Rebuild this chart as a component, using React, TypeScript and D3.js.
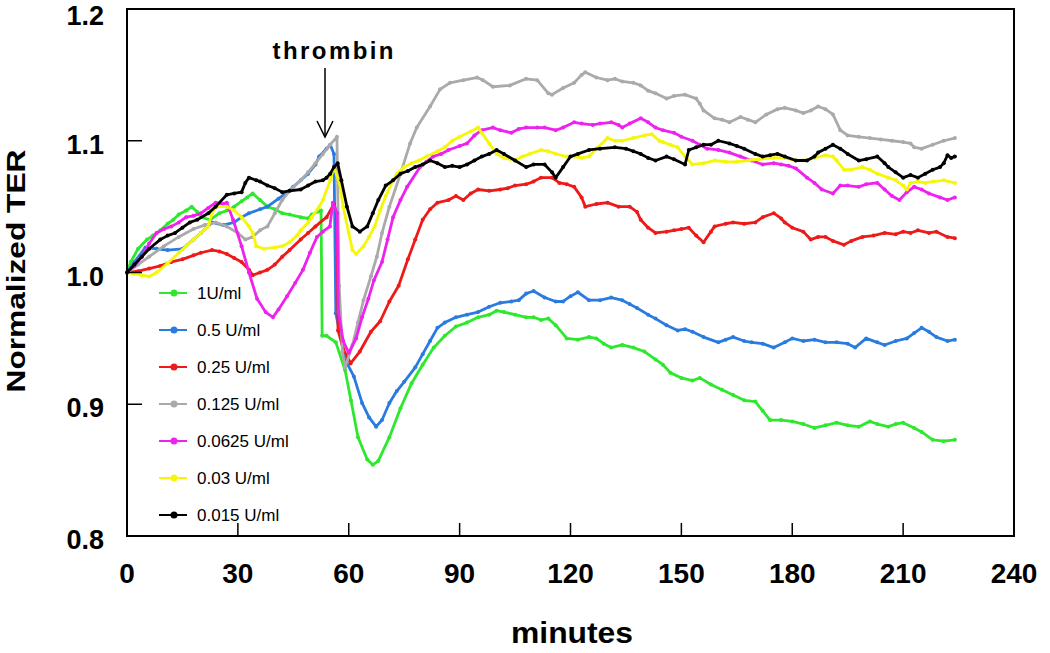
import React from 'react';
import * as d3 from 'd3';

type Pt = [number, number];

const seriesNames = ['1U/ml', '0.5 U/ml', '0.25 U/ml', '0.125 U/ml', '0.0625 U/ml', '0.03 U/ml', '0.015 U/ml'];
const seriesColors = ['#2ee82e', '#2a7be0', '#ee1a1a', '#aaaaaa', '#ee22ee', '#f6f60a', '#000000'];
const xTicks = [0, 30, 60, 90, 120, 150, 180, 210, 240];
const yTicks = [0.8, 0.9, 1.0, 1.1, 1.2];

const data1U: Pt[] = [[0,1.0],[1,1.008],[3,1.018],[5.4,1.025],[7,1.028],[9,1.032],[11,1.037],[12.5,1.04],[14,1.044],[16,1.047],[17.5,1.05],[19,1.046],[20,1.042],[22.5,1.04],[25,1.045],[27,1.047],[29,1.05],[31,1.054],[32.5,1.057],[34,1.06],[36,1.055],[38,1.05],[40,1.048],[42,1.045],[44,1.044],[47,1.042],[49,1.041],[50,1.044],[52.5,1.047],[52.8,0.952],[54,0.952],[56.5,0.947],[59,0.926],[60.6,0.903],[62.5,0.875],[65,0.858],[66.5,0.854],[68,0.857],[71,0.875],[74,0.897],[77,0.916],[80,0.93],[83,0.943],[86,0.952],[89,0.959],[92,0.962],[95,0.966],[98,0.968],[100,0.971],[102,0.97],[105,0.968],[108,0.966],[110,0.966],[112,0.964],[114,0.965],[116,0.96],[119,0.95],[122,0.949],[125,0.951],[127,0.95],[129,0.946],[131,0.943],[134,0.945],[137,0.943],[140,0.94],[143,0.934],[145,0.93],[147,0.924],[150,0.92],[153,0.918],[155,0.92],[158,0.915],[161,0.911],[164,0.907],[167,0.903],[170,0.902],[172,0.895],[174,0.888],[177,0.888],[180,0.887],[183,0.885],[186,0.882],[189,0.884],[192,0.886],[195,0.884],[198,0.883],[201,0.887],[203,0.885],[206,0.883],[208,0.885],[210,0.886],[213,0.882],[215,0.879],[218,0.873],[221,0.872],[224,0.873]];

const data05U: Pt[] = [[0,1.0],[2,1.008],[5,1.019],[8,1.018],[11,1.017],[15,1.018],[18,1.025],[20,1.03],[23,1.038],[26,1.036],[29,1.038],[31,1.042],[33,1.045],[36,1.048],[38,1.05],[41,1.056],[43,1.06],[45,1.065],[47,1.07],[49,1.075],[51,1.082],[52,1.088],[54,1.094],[55,1.097],[56,1.09],[56.5,0.969],[59,0.934],[61.4,0.921],[63.6,0.901],[65.5,0.89],[67.4,0.883],[69,0.888],[71,0.901],[73,0.91],[75,0.917],[78,0.928],[80,0.938],[82,0.948],[84,0.958],[86,0.962],[89,0.966],[92,0.968],[95,0.97],[98,0.974],[101,0.977],[104,0.978],[106,0.979],[108,0.984],[110,0.986],[113,0.981],[116,0.978],[118,0.978],[120,0.982],[122,0.985],[125,0.979],[128,0.979],[131,0.981],[134,0.979],[136,0.976],[138,0.973],[141,0.968],[143,0.965],[146,0.96],[149,0.956],[151,0.957],[153,0.955],[156,0.951],[160,0.947],[162,0.949],[164,0.951],[167,0.948],[169,0.947],[172,0.946],[175,0.943],[178,0.947],[180,0.95],[183,0.948],[186,0.949],[189,0.947],[192,0.947],[195,0.946],[197,0.943],[200,0.95],[203,0.947],[205,0.945],[208,0.948],[211,0.95],[213,0.954],[215,0.958],[217,0.955],[219,0.951],[222,0.948],[224,0.949]];

const data025U: Pt[] = [[0,1.0],[3,1.001],[6,1.003],[9,1.005],[12,1.008],[15,1.01],[18,1.013],[20,1.015],[23,1.017],[25,1.016],[27,1.014],[29,1.011],[31,1.008],[33,1.002],[34,0.998],[36,1.0],[38,1.002],[40,1.006],[42,1.012],[44,1.017],[47,1.025],[49,1.03],[51,1.035],[54,1.042],[56,1.052],[56.8,1.045],[57.1,0.956],[58.5,0.942],[60.5,0.931],[63,0.94],[66,0.955],[68.5,0.963],[71,0.978],[73.5,0.99],[76,1.01],[78,1.025],[80,1.04],[82,1.048],[84,1.053],[87,1.055],[89,1.058],[91,1.055],[93,1.06],[95,1.063],[98,1.062],[101,1.063],[103,1.064],[105,1.066],[108,1.067],[110,1.069],[112,1.072],[115,1.072],[117,1.068],[119,1.067],[121,1.065],[123,1.057],[124,1.05],[127,1.052],[130,1.053],[133,1.05],[136,1.05],[138,1.046],[139,1.04],[141,1.034],[143,1.03],[146,1.031],[148,1.032],[150,1.033],[152,1.034],[154,1.028],[156,1.023],[158,1.031],[159,1.035],[162,1.037],[164,1.038],[167,1.037],[170,1.038],[172,1.042],[175,1.045],[177,1.041],[178,1.038],[180,1.034],[183,1.031],[185,1.025],[187,1.027],[189,1.027],[191,1.024],[194,1.021],[196,1.024],[199,1.027],[202,1.028],[205,1.03],[208,1.029],[210,1.031],[212,1.03],[214,1.032],[217,1.03],[219,1.031],[222,1.027],[224,1.026]];

const data0125U: Pt[] = [[0,1.0],[3,1.006],[6,1.012],[10,1.02],[14,1.027],[18,1.033],[21,1.036],[24,1.038],[27,1.035],[30,1.03],[32,1.025],[34,1.027],[36,1.032],[38,1.035],[40,1.045],[42,1.055],[44,1.062],[47,1.07],[49,1.076],[51,1.083],[53,1.09],[55,1.097],[56.8,1.103],[57.4,0.99],[58.3,0.94],[59,0.928],[61,0.945],[62.5,0.962],[64,0.979],[66,0.997],[67.6,1.012],[69,1.03],[71,1.05],[74,1.075],[76.6,1.098],[78.4,1.11],[82,1.126],[84.7,1.139],[87.4,1.144],[91,1.146],[94.7,1.148],[96.3,1.146],[99,1.141],[103.6,1.142],[108,1.147],[111,1.146],[114,1.136],[115,1.135],[118,1.14],[121,1.144],[123,1.15],[124,1.152],[127,1.148],[130,1.146],[132,1.147],[134,1.145],[137,1.144],[139,1.142],[141,1.138],[143,1.136],[146,1.132],[148,1.134],[151,1.135],[154,1.132],[155,1.128],[156,1.123],[159,1.117],[161,1.116],[163,1.114],[166,1.118],[168,1.116],[170,1.114],[173,1.12],[176,1.124],[178,1.125],[181,1.123],[183,1.121],[185,1.123],[187,1.126],[189,1.124],[191,1.12],[193,1.108],[195,1.104],[198,1.103],[201,1.102],[204,1.101],[207,1.1],[210,1.099],[212,1.098],[213,1.095],[215,1.094],[218,1.097],[221,1.1],[224,1.102]];

const data00625U: Pt[] = [[0,1.0],[2,1.005],[4,1.012],[6,1.022],[8,1.03],[10,1.033],[12,1.035],[14,1.038],[16,1.042],[18,1.043],[20,1.045],[22,1.049],[24,1.053],[26,1.052],[27,1.053],[28.7,1.04],[31,1.02],[33,1.0],[35.2,0.98],[37.5,0.97],[39.5,0.966],[41,0.972],[43.3,0.982],[45.5,0.992],[47.6,1.002],[49.5,1.015],[51.4,1.027],[53,1.031],[54.9,1.035],[55.7,1.053],[56.9,1.045],[57.2,0.97],[58.5,0.948],[60,0.939],[62,0.95],[63.6,0.966],[65.3,0.98],[66.8,0.994],[69,1.008],[70.5,1.025],[72,1.042],[74,1.055],[75.8,1.065],[79.3,1.08],[81,1.084],[82.8,1.088],[85,1.09],[87,1.093],[90,1.096],[92,1.098],[94,1.104],[96,1.108],[99,1.11],[101,1.108],[104,1.106],[106,1.109],[108,1.11],[111,1.11],[113,1.11],[116,1.108],[118,1.11],[121,1.114],[123,1.113],[126,1.112],[128,1.113],[131,1.114],[133,1.112],[134,1.11],[136,1.113],[139,1.117],[141,1.114],[143,1.11],[145,1.108],[148,1.106],[150,1.103],[153,1.1],[155,1.097],[157,1.094],[160,1.093],[163,1.091],[166,1.088],[169,1.085],[172,1.082],[175,1.083],[177,1.082],[179,1.081],[181,1.079],[184,1.072],[186,1.068],[188,1.063],[191,1.06],[193,1.066],[195,1.066],[198,1.065],[200,1.067],[203,1.068],[205,1.063],[207,1.058],[209,1.055],[211,1.061],[213,1.065],[215,1.063],[217,1.06],[220,1.057],[222,1.055],[224,1.057]];

const data003U: Pt[] = [[0,1.0],[2,0.999],[4,0.998],[6,0.997],[8,1.0],[11,1.007],[14,1.015],[16,1.02],[18,1.025],[20,1.03],[22,1.035],[23,1.045],[24,1.05],[27,1.05],[29,1.047],[31,1.042],[33,1.035],[34,1.03],[35,1.02],[37,1.018],[40,1.019],[42,1.02],[44,1.023],[46,1.028],[47,1.032],[49,1.038],[50,1.042],[52,1.05],[53,1.055],[55,1.07],[56,1.08],[57.5,1.068],[58.5,1.05],[60,1.03],[61,1.017],[62,1.014],[64,1.02],[65.5,1.027],[67,1.035],[68.5,1.047],[70,1.058],[72,1.07],[73,1.075],[75,1.08],[77,1.083],[79,1.085],[81,1.088],[84,1.092],[86,1.095],[88,1.1],[90,1.103],[93,1.107],[95,1.11],[96,1.106],[98,1.098],[100,1.09],[102,1.087],[105,1.085],[107,1.088],[109,1.09],[112,1.093],[114,1.092],[116,1.09],[119,1.088],[121,1.088],[123,1.087],[125,1.088],[127,1.094],[130,1.102],[132,1.1],[134,1.1],[137,1.102],[140,1.104],[142,1.105],[144,1.1],[145,1.099],[147,1.097],[149,1.095],[151,1.088],[153,1.082],[156,1.083],[159,1.085],[162,1.084],[165,1.084],[168,1.085],[171,1.086],[175,1.087],[178,1.087],[181,1.085],[183,1.085],[186,1.087],[189,1.089],[191,1.088],[192,1.085],[194,1.078],[196,1.078],[199,1.08],[201,1.078],[203,1.075],[206,1.072],[208,1.07],[210,1.066],[211,1.063],[212,1.068],[214,1.069],[216,1.068],[218,1.069],[221,1.07],[224,1.068]];

const data0015U: Pt[] = [[0,1.0],[2,1.006],[4,1.012],[6,1.018],[9,1.025],[11,1.028],[13,1.03],[15,1.034],[17,1.038],[19,1.04],[22,1.045],[24,1.05],[27,1.059],[29,1.06],[31,1.061],[32,1.068],[33,1.072],[35,1.07],[36,1.069],[38,1.066],[40,1.064],[42,1.061],[44,1.062],[47,1.063],[49,1.066],[51,1.069],[53,1.07],[54,1.072],[55,1.075],[56,1.08],[57,1.083],[58,1.07],[59.5,1.05],[61,1.035],[63,1.031],[65,1.035],[66.5,1.045],[68,1.055],[70,1.066],[72,1.07],[74,1.075],[76,1.077],[78,1.08],[80,1.082],[82,1.085],[84,1.083],[86,1.08],[88,1.081],[90,1.08],[92,1.082],[94,1.085],[96,1.088],[98,1.09],[100,1.093],[102,1.09],[105,1.085],[108,1.08],[110,1.082],[113,1.082],[115,1.076],[116,1.072],[118,1.08],[120,1.088],[122,1.09],[125,1.093],[128,1.094],[132,1.095],[135,1.094],[137,1.092],[139,1.09],[141,1.087],[143,1.085],[146,1.088],[148,1.086],[151,1.082],[152,1.093],[154,1.095],[156,1.097],[158,1.097],[160,1.1],[163,1.098],[165,1.096],[167,1.094],[170,1.09],[172,1.088],[174,1.089],[176,1.09],[178,1.088],[181,1.085],[184,1.085],[186,1.088],[187,1.091],[189,1.094],[191,1.097],[193,1.094],[195,1.09],[198,1.085],[200,1.086],[203,1.088],[205,1.083],[206,1.08],[208,1.076],[210,1.072],[212,1.074],[214,1.072],[216,1.075],[218,1.078],[220,1.08],[221,1.083],[222,1.089],[223,1.087],[224,1.088]];

const allSeries: Pt[][] = [data1U, data05U, data025U, data0125U, data00625U, data003U, data0015U];

const FONT = '"Liberation Sans", Arial, Helvetica, sans-serif';

export default function App() {
  const W = 1050;
  const H = 653;
  const x = d3.scaleLinear().domain([0, 240]).range([127, 1014]);
  const y = d3.scaleLinear().domain([0.8, 1.2]).range([536, 9]);
  const line = d3.line<Pt>().x((d) => x(d[0])).y((d) => y(d[1]));
  const fmt = d3.format('.1f');

  const legendX0 = 159;
  const legendY0 = 293;
  const legendStep = 37;

  return (
    <svg width={W} height={H} style={{ position: 'absolute', left: 0, top: 0, background: '#fff' }}>
      <rect x={0} y={0} width={W} height={H} fill="#fff" />
      {allSeries.map((s, i) => (
        <g key={i}>
          <path d={line(s) || ''} fill="none" stroke={seriesColors[i]} strokeWidth={2.8} strokeLinejoin="round" />
          {s.map((d, j) => (
            <circle key={j} cx={x(d[0])} cy={y(d[1])} r={2} fill={seriesColors[i]} />
          ))}
        </g>
      ))}
      <rect x={x(0)} y={y(1.2)} width={x(240) - x(0)} height={y(0.8) - y(1.2)} fill="none" stroke="#000" strokeWidth={2} />
      {xTicks.slice(1, -1).map((t) => (
        <line key={'xt' + t} x1={x(t)} x2={x(t)} y1={y(0.8)} y2={y(0.8) - 13} stroke="#000" strokeWidth={1.5} />
      ))}
      {xTicks.map((t) => (
        <text key={'xl' + t} x={x(t)} y={583} textAnchor="middle" fontFamily={FONT} fontWeight="bold" fontSize={28} fill="#000">
          {t}
        </text>
      ))}
      {yTicks.slice(1, -1).map((v) => (
        <line key={'yt' + v} x1={x(0)} x2={x(0) + 15} y1={y(v)} y2={y(v)} stroke="#000" strokeWidth={1.5} />
      ))}
      {yTicks.map((v) => (
        <text key={'yl' + v} x={104} y={Math.max(y(v) + 13, 25)} textAnchor="end" fontFamily={FONT} fontWeight="bold" fontSize={27} fill="#000">
          {fmt(v)}
        </text>
      ))}
      <text x={572} y={643} textAnchor="middle" fontFamily={FONT} fontWeight="bold" fontSize={29} textLength={122} lengthAdjust="spacingAndGlyphs" fill="#000">
        minutes
      </text>
      <text transform="translate(25,271) rotate(-90)" textAnchor="middle" fontFamily={FONT} fontWeight="bold" fontSize={26} textLength={243} lengthAdjust="spacingAndGlyphs" fill="#000">
        Normalized TER
      </text>
      <text x={333} y={59} textAnchor="middle" fontFamily={FONT} fontWeight="bold" fontSize={24} textLength={121} lengthAdjust="spacing" fill="#000">
        thrombin
      </text>
      <line x1={325} x2={325} y1={68} y2={137} stroke="#000" strokeWidth={1.5} />
      <polyline points="317,121 325,137 333,121" fill="none" stroke="#000" strokeWidth={1.5} />
      {seriesNames.map((name, i) => {
        const ly = legendY0 + i * legendStep;
        return (
          <g key={'lg' + i}>
            <line x1={legendX0} x2={legendX0 + 28} y1={ly} y2={ly} stroke={seriesColors[i]} strokeWidth={2} />
            <circle cx={legendX0 + 15} cy={ly} r={3.5} fill={seriesColors[i]} />
            <text x={197} y={ly + 6} fontFamily={FONT} fontSize={17} fill="#000">
              {name}
            </text>
          </g>
        );
      })}
    </svg>
  );
}
